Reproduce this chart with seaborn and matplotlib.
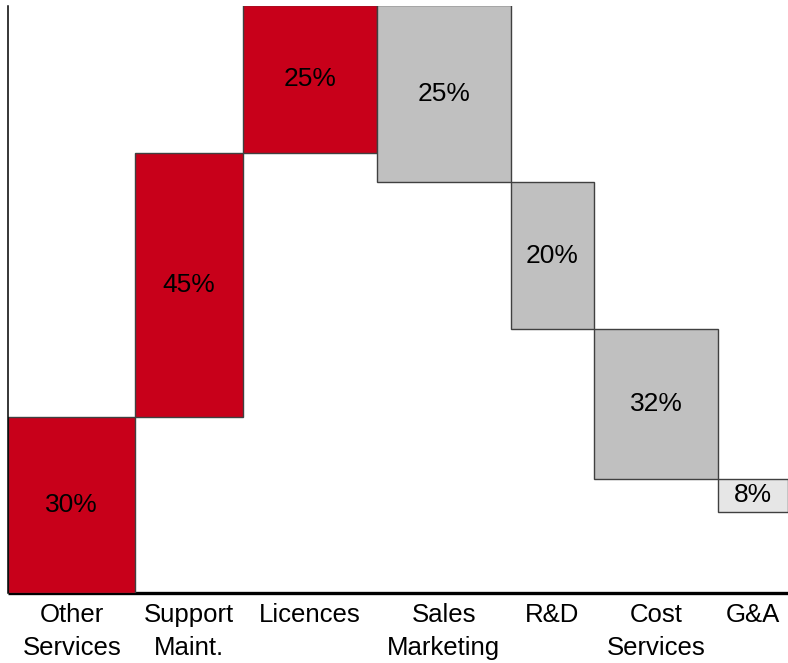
import numpy as np
import matplotlib
matplotlib.use("Agg")
import matplotlib.pyplot as plt
import seaborn as sns

# ---- data ----
categories = ["Other\nServices", "Support\nMaint.", "Licences", "Sales\nMarketing",
              "R&D", "Cost\nServices", "G&A"]
# bar heights (% of revenue scale), revenues positive, costs negative
heights = [30.0, 45.0, 25.1, -30.1, -25.1, -25.4, -5.7]
# bar widths (relative units)
widths = [127.0, 107.4, 134.0, 134.0, 83.3, 124.3, 69.7]
labels = ["30%", "45%", "25%", "25%", "20%", "32%", "8%"]
colors = ["#C8001A", "#C8001A", "#C8001A", "#C0C0C0", "#C0C0C0", "#C0C0C0", "#E6E6E6"]

sns.set_theme(style="white")
plt.rcParams["font.family"] = ["Liberation Sans", "DejaVu Sans"]

fig = plt.figure(figsize=(7.88, 6.63), dpi=100)
ax = fig.add_axes([8.3 / 788, 1 - 593 / 663, 1 - 8.3 / 788, (593 - 6) / 663])

widths_arr = np.array(widths)
lefts = np.concatenate([[0], np.cumsum(widths_arr)[:-1]])
heights_arr = np.array(heights)
tops = np.cumsum(heights_arr)
bottoms = tops - heights_arr
bar_bottom = np.minimum(bottoms, tops)
bar_h = np.abs(heights_arr)

total_w = widths_arr.sum()
ax.plot([0, total_w], [0, 0], color="black", lw=2.4, zorder=1, clip_on=False,
        solid_capstyle="butt")

ax.bar(lefts, bar_h, width=widths_arr, bottom=bar_bottom, align="edge",
       color=colors, edgecolor="#404040", linewidth=1.0, zorder=2)

for x, w, b, h, lab in zip(lefts, widths_arr, bar_bottom, bar_h, labels):
    ax.text(x + w / 2, b + h / 2, lab, ha="center", va="center",
            fontsize=19, color="black", zorder=3)

ax.set_xlim(0, total_w)
ax.set_ylim(0, 100)
ax.set_xticks(lefts + widths_arr / 2)
ax.set_xticklabels(categories, fontsize=18.5, linespacing=1.5, color="black")
ax.tick_params(axis="x", length=0, pad=7)
ax.set_yticks([])
sns.despine(ax=ax, top=True, right=True, bottom=True, left=False)
ax.spines["left"].set_color("black")
ax.spines["left"].set_linewidth(1.1)
ax.spines["left"].set_zorder(4)

fig.savefig("out.png", dpi=100)
